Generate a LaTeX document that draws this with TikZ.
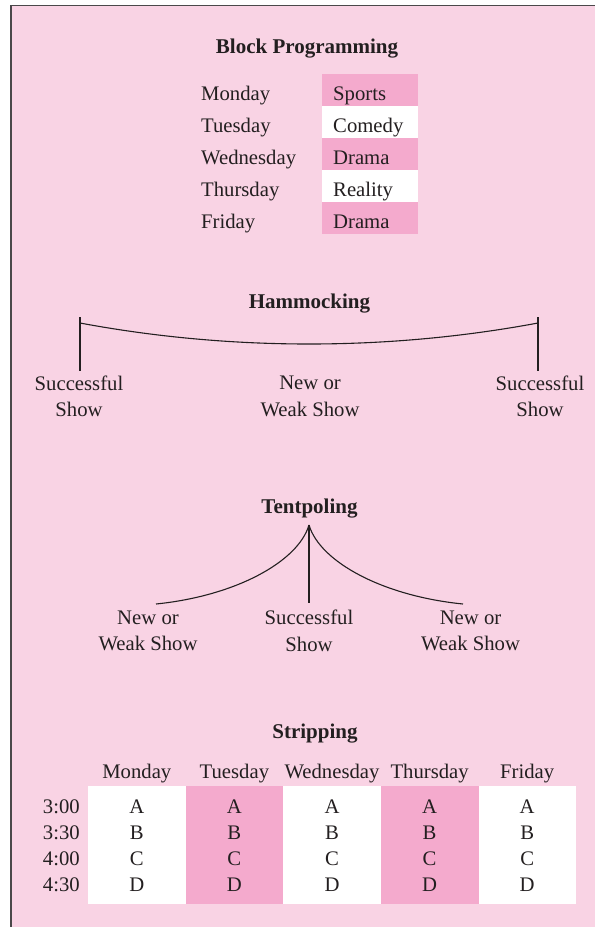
\documentclass[tikz,border=0pt]{standalone}
\usepackage{fontspec}
\setmainfont{Liberation Serif}
\usepackage{xcolor}
\usepackage{tikz}

\definecolor{bgpink}{RGB}{249,211,228}
\definecolor{hotpink}{RGB}{244,170,205}
\definecolor{ink}{RGB}{35,31,32}
\definecolor{rim}{RGB}{75,72,74}

\tikzset{
  txt/.style={font=\fontsize{20.7}{26.5}\selectfont, text=ink, inner sep=0pt, align=center},
  ttl/.style={font=\fontsize{21}{26}\selectfont\bfseries, text=ink, inner sep=0pt, anchor=base},
  daylbl/.style={txt, anchor=base west},
  slot/.style={txt, anchor=base west, align=left, text width=74pt, inner xsep=11pt,
    text height=20pt, text depth=0pt, minimum height=32pt},
  col/.style={minimum width=97.6pt, minimum height=118pt, inner sep=0pt, anchor=north west},
  link/.style={draw=ink, line width=1.1pt},
}

\begin{document}
\begin{tikzpicture}[x=1pt,y=-1pt]
\useasboundingbox (0,0) rectangle (595,927);
\fill[bgpink] (10.7,5.3) rectangle (595,927);
\draw[rim, line width=1.6pt] (10.7,927) -- (10.7,5.3) -- (595,5.3);

% block programming
\node[ttl] (block) at (307,53) {Block Programming};

\node[daylbl] (mon) at (201,100) {Monday};
\node[daylbl] (tue) at (201,132) {Tuesday};
\node[daylbl] (wed) at (201,164) {Wednesday};
\node[daylbl] (thu) at (201,196) {Thursday};
\node[daylbl] (fri) at (201,228) {Friday};

\node[slot, fill=hotpink] (sports) at (322,100) {Sports};
\node[slot, fill=white] (comedy) at (322,132) {Comedy};
\node[slot, fill=hotpink] (drama) at (322,164) {Drama};
\node[slot, fill=white] (reality) at (322,196) {Reality};
\node[slot, fill=hotpink] (drama2) at (322,228) {Drama};

% hammocking
\node[ttl] (hammock) at (309.5,308) {Hammocking};

\coordinate (hlt) at (80,317);
\coordinate (hlb) at (80,371);
\coordinate (hrt) at (538,317);
\coordinate (hrb) at (538,371);
\coordinate (hl) at (80,323);
\coordinate (hr) at (538,323);

\node[txt] (hs1) at (79,396.5) {Successful\\Show};
\node[txt] (hweak) at (310,396.5) {New or\\Weak Show};
\node[txt] (hs2) at (540,396.5) {Successful\\Show};

\draw[link] (hlt)--(hlb);
\draw[link] (hrt)--(hrb);
\draw[link] (hl) .. controls (230,351) and (388,351) .. (hr);

% tentpoling
\node[ttl] (tent) at (309.5,513) {Tentpoling};

\coordinate (apex) at (309,525);
\coordinate (tl) at (156,604);
\coordinate (tm) at (309,603);
\coordinate (tr) at (463,604);

\node[txt] (tweak1) at (148,631) {New or\\Weak Show};
\node[txt] (tsucc) at (309,631) {Successful\\Show};
\node[txt] (tweak2) at (470.5,631) {New or\\Weak Show};

\draw[link] (apex)--(tm);
\draw[link] (apex) .. controls (298,562) and (235,596) .. (tl);
\draw[link] (apex) .. controls (320,562) and (383,596) .. (tr);

% stripping
\node[ttl] (strip) at (315,738) {Stripping};

\node[col, fill=white] (cmon) at (88,786) {};
\node[col, fill=hotpink] (ctue) at (185.6,786) {};
\node[col, fill=white] (cwed) at (283.2,786) {};
\node[col, fill=hotpink] (cthu) at (380.8,786) {};
\node[col, fill=white] (cfri) at (478.4,786) {};

\node[txt, anchor=base] (hmon) at (136.8,778) {Monday};
\node[txt, anchor=base] (htue) at (234.4,778) {Tuesday};
\node[txt, anchor=base] (hwed) at (332,778) {Wednesday};
\node[txt, anchor=base] (hthu) at (429.6,778) {Thursday};
\node[txt, anchor=base] (hfri) at (527.2,778) {Friday};

\node[txt, anchor=base east] (t300) at (80,813) {3:00};
\node[txt, anchor=base east] (t330) at (80,839) {3:30};
\node[txt, anchor=base east] (t400) at (80,865) {4:00};
\node[txt, anchor=base east] (t430) at (80,891) {4:30};

\foreach \c/\x in {1/136.8,2/234.4,3/332,4/429.6,5/527.2}
  \foreach \r/\l/\y in {1/A/813,2/B/839,3/C/865,4/D/891}
    \node[txt, anchor=base] (s\c\r) at (\x,\y) {\l};
\end{tikzpicture}
\end{document}
